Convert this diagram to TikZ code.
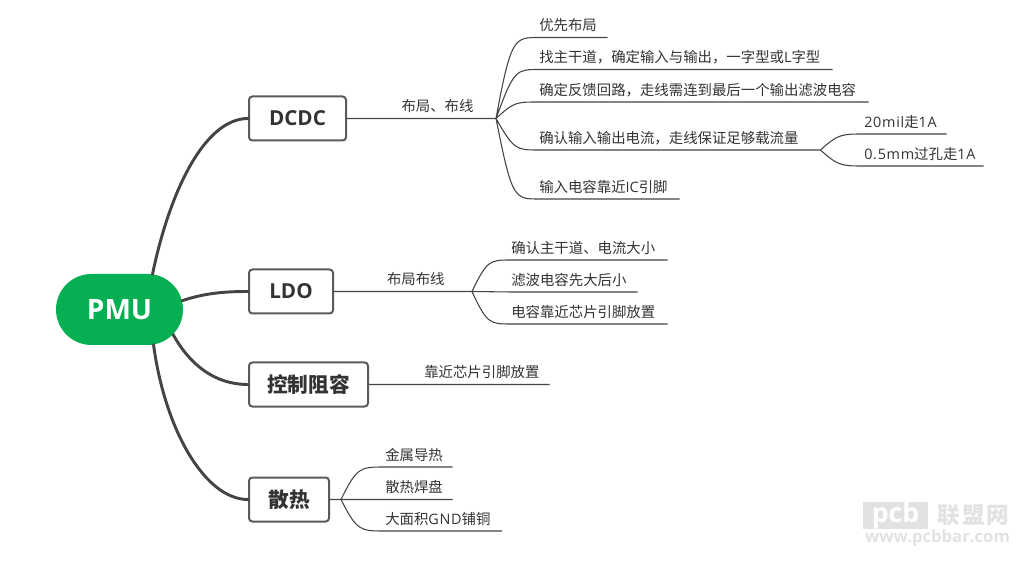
\documentclass[tikz,border=0pt]{standalone}
\usepackage{fontspec}
\setmainfont{Open Sans}
\newfontfamily\cjk{Noto Sans CJK SC}
\newfontfamily\wide[LetterSpace=5]{Open Sans}
\newcommand{\zh}[1]{{\cjk #1}}
\usetikzlibrary{shapes.misc}
\definecolor{pmugreen}{HTML}{06AF52}
\definecolor{linegray}{HTML}{444444}
\definecolor{boxgray}{HTML}{5A5A5A}
\definecolor{textgray}{HTML}{333333}
\definecolor{markgray}{HTML}{E2E2E2}
\tikzset{
  topic/.style={shape=rectangle,draw=boxgray,line width=1.5pt,rounded corners=2.5pt,fill=white,
    text=textgray,font=\fontsize{15.5}{17}\selectfont\bfseries,anchor=west,inner sep=0pt,
    minimum height=33pt,align=center},
  leaf/.style={anchor=south west,inner xsep=0pt,inner ysep=4.9pt,text depth=0pt,text height=9pt,
    text=textgray,font=\fontsize{10.8}{12}\selectfont,text width=#1*0.75pt},
  branch/.style={draw=linegray,line width=2.2pt,line cap=round},
  twig/.style={draw=linegray,line width=0.8pt}
}
\begin{document}
\begin{tikzpicture}[x=0.75pt,y=-0.75pt]
      \useasboundingbox (0,0) rectangle (1017,566);
      \node[shape=rounded rectangle,fill=pmugreen,text=white,minimum width=95.25pt,minimum height=53.25pt,inner sep=0pt,font=\fontsize{21}{24}\selectfont\bfseries] (pmu) at (119.5,309.5) {PMU};
      \node[topic,minimum width=72.75pt] (dcdc) at (248,118.5) {DCDC};
      \node[topic,minimum width=63pt] (ldo) at (248,291.5) {LDO};
      \node[topic,minimum width=89.25pt] (ctrl) at (248,384.5) {\zh{控制阻容}};
      \node[topic,minimum width=60pt] (heat) at (248,499.5) {\zh{散热}};
      \path[branch]
      (pmu.47) .. controls (170,190) and (205,118.5) .. (dcdc.west)
      (pmu.8) .. controls (205,293) and (225,291.5) .. (ldo.west)
      (pmu.-25.5) .. controls (190,365) and (215,384.5) .. (ctrl.west)
      (pmu.-46.7) .. controls (165,430) and (205,499.5) .. (heat.west);

      \coordinate (dj) at (496,118.5);
      \coordinate (fj) at (820.5,150);
      \coordinate (lj) at (472,291.5);
      \coordinate (hj) at (341,499.5);
      \node[leaf=73,anchor=south] (dlab) at (438,118.5) {\zh{布局、布线}};
      \node[leaf=58,anchor=south] (llab) at (416,291.5) {\zh{布局布线}};

      \node[leaf=68] (d1) at (539,37.5) {\zh{优先布局}};
      \node[leaf=293] (d2) at (539,69.5) {\zh{找主干道，确定输入与输出，一字型或}L\zh{字型}};
      \node[leaf=329] (d3) at (539,102) {\zh{确定反馈回路，走线需连到最后一个输出滤波电容}};
      \node[leaf=281.5] (d4) at (539,150) {\zh{确认输入输出电流，走线保证足够载流量}};
      \node[leaf=140] (d5) at (539,199) {\zh{输入电容靠近}IC\zh{引脚}};
      \node[leaf=82] (f1) at (864,134) {{\wide 20mil}\zh{走}{\wide 1A}};
      \node[leaf=119] (f2) at (864,166) {{\wide 0.5mm}\zh{过孔走}{\wide 1A}};
      \node[leaf=156] (l1) at (511,260) {\zh{确认主干道、电流大小}};
      \node[leaf=126] (l2) at (511,292) {\zh{滤波电容先大后小}};
      \node[leaf=156] (l3) at (511,324) {\zh{电容靠近芯片引脚放置}};
      \node[leaf=125] (c1) at (424,384.5) {\zh{靠近芯片引脚放置}};
      \node[leaf=67] (h1) at (385,467) {\zh{金属导热}};
      \node[leaf=67] (h2) at (385,499.5) {\zh{散热焊盘}};
      \node[leaf=116.5] (h3) at (385,531) {\zh{大面积}{\wide GND}\zh{铺铜}};

      \path[twig]
      (dcdc.east) -- (dj)
      (ldo.east) -- (lj)
      (heat.east) -- (hj)
      (ctrl.east) -- (c1.south west) -- (c1.south east)
      (dj) .. controls (511,37.5) and (514,37.5) .. (d1.south west) -- (d1.south east)
      (dj) .. controls (514,69.5) and (516,69.5) .. (d2.south west) -- (d2.south east)
      (dj) .. controls (514,102) and (516,102) .. (d3.south west) -- (d3.south east)
      (dj) .. controls (514,150) and (516,150) .. (d4.south west) -- (d4.south east)
      (dj) .. controls (512,199) and (514,199) .. (d5.south west) -- (d5.south east)
      (d4.south east) -- (fj)
      (fj) .. controls (838,134) and (842,134) .. (f1.south west) -- (f1.south east)
      (fj) .. controls (838,166) and (842,166) .. (f2.south west) -- (f2.south east)
      (lj) .. controls (487,260) and (490,260) .. (l1.south west) -- (l1.south east)
      (lj) -- (l2.south west) -- (l2.south east)
      (lj) .. controls (487,324) and (490,324) .. (l3.south west) -- (l3.south east)
      (hj) .. controls (357,467) and (360,467) .. (h1.south west) -- (h1.south east)
      (hj) -- (h2.south west) -- (h2.south east)
      (hj) .. controls (357,531) and (360,531) .. (h3.south west) -- (h3.south east);

      \node[shape=rectangle,fill=markgray,text=white,minimum width=48.75pt,minimum height=18.75pt,inner sep=0pt,font=\fontsize{20}{20}\selectfont\bfseries] (logo) at (895.5,515.5) {pcb};
      \node[text=markgray,inner sep=0pt,font=\fontsize{17}{20}\selectfont\bfseries] (cn) at (973.5,515.5) {\zh{联\hspace{1.5pt}盟\hspace{1.5pt}网}};
      \node[text=markgray,inner sep=0pt,font=\fontsize{12.5}{14}\selectfont\bfseries] (url) at (937.5,538) {www.pcbbar.com};
\end{tikzpicture}
\end{document}
